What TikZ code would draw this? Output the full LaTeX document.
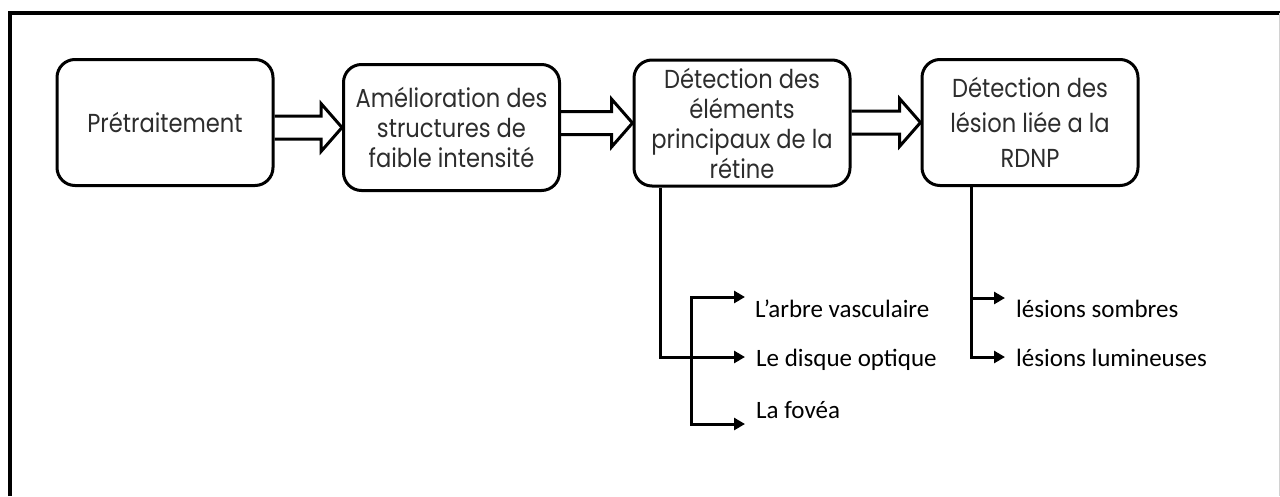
\documentclass[tikz,border=0pt]{standalone}
\usepackage{fontspec}
\setmainfont{Poppins}[FakeStretch=0.87]
\newfontfamily\leaffont{Carlito}
\usetikzlibrary{arrows.meta,calc}

\tikzset{
  stepbox/.style={draw, line width=3pt, rounded corners=18pt, minimum width=216pt, minimum height=126pt, align=center, text={rgb,255:red,45;green,45;blue,45}, font=\fontsize{26}{30}\selectfont, inner sep=2pt},
  hollowline/.style={line width=3pt, line join=miter},
  treeline/.style={line width=3pt, line join=miter, -{Triangle[length=11pt,width=12pt]}},
  leaf/.style={anchor=base west, inner sep=0pt, font=\leaffont\fontsize{25}{30}\selectfont},
}

% hollow block arrow from the east side of #1 to the west side of #2
\newcommand\hollowarrow[2]{%
  \draw[hollowline] let \p1=(#1.east), \p2=(#2.west) in
    (\x1,\y2+11.5pt) -- (\x2-21pt,\y2+11.5pt) -- (\x2-21pt,\y2+24pt) -- (\x2,\y2)
    -- (\x2-21pt,\y2-24pt) -- (\x2-21pt,\y2-11.5pt) -- (\x1,\y2-11.5pt);
}

\begin{document}
\begin{tikzpicture}[x=1pt,y=1pt,yscale=-1,xscale=1]
\useasboundingbox (0,0) rectangle (1280,496);

%Frame
\draw [line width=4pt] (9.5,496) -- (9.5,13) -- (1280,13) ;
\draw [color={rgb, 255:red, 210; green, 210; blue, 210 }, line width=1pt] (1279,13) -- (1279,496) ;

%Steps
\node[stepbox] (b1) at (165,122.5) {Prétraitement};
\node[stepbox] (b2) at (451.5,127.5) {Amélioration des\\structures de\\faible intensité};
\node[stepbox] (b3) at (742,123) {Détection des\\éléments\\principaux de la\\rétine};
\node[stepbox, font=\fontsize{26}{35}\selectfont] (b4) at (1030,122.5) {Détection des\\lésion liée a la\\RDNP};

%Block arrows
\hollowarrow{b1}{b2}
\hollowarrow{b2}{b3}
\hollowarrow{b3}{b4}

%Elements of the retina
\coordinate (k3) at ($(b3.south west)+(28,0)$);
\coordinate (j3) at (691,297);
\coordinate (v1) at (745,297);
\coordinate (v2) at (745,357);
\coordinate (v3) at (745,424);
\draw[treeline] (k3) |- (v2);
\draw[treeline, {Triangle[length=11pt,width=12pt]}-{Triangle[length=11pt,width=12pt]}] (v1) -- (j3) -- (j3 |- v3) -- (v3);
\node[leaf] (n31) at (755,317) {L’arbre vasculaire};
\node[leaf] (n32) at (756,366) {Le disque optique};
\node[leaf] (n33) at (756,418) {La fovéa};

%Lesions
\coordinate (k4) at ($(b4.south west)+(51,0)$);
\coordinate (w1) at (1005,298);
\coordinate (w2) at (1005,357);
\draw[treeline] (k4) |- (w2);
\draw[treeline] (k4 |- w1) -- (w1);
\node[leaf] (n41) at (1016,317) {lésions sombres};
\node[leaf] (n42) at (1016,366) {lésions lumineuses};

\end{tikzpicture}
\end{document}
